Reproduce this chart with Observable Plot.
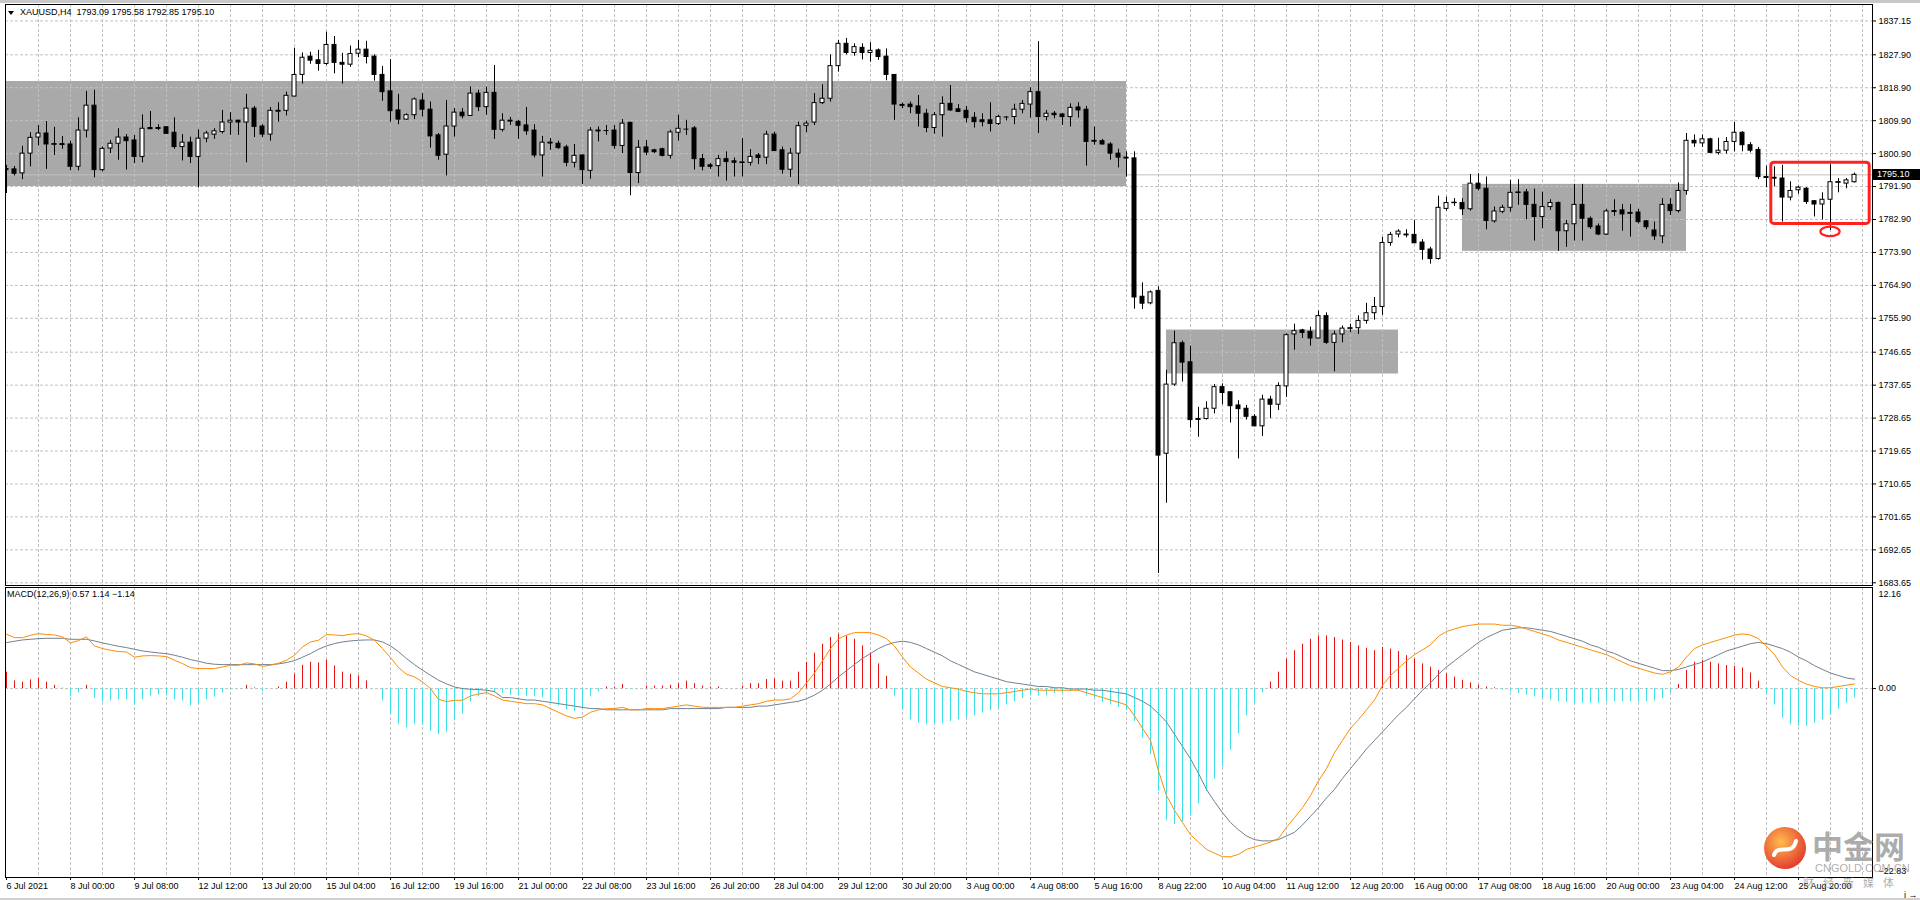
<!DOCTYPE html>
<html>
<head>
<meta charset="utf-8">
<script src="https://cdn.jsdelivr.net/npm/d3@7"></script>
<script src="https://cdn.jsdelivr.net/npm/@observablehq/plot@0.6"></script>
<style>
  html, body { margin:0; padding:0; background:#fff; }
  body { width:1920px; height:900px; overflow:hidden; position:relative; font-family:"Liberation Sans", Arial, sans-serif; }
  #topband { position:absolute; left:0; top:0; width:1920px; height:3px; background:#c8c8c8; z-index:6; }
  #botband { position:absolute; left:0; top:898px; width:1920px; height:2px; background:#d0d0d0; z-index:6; }
  #price { position:absolute; left:0; top:0; }
  #macd { position:absolute; left:0; top:586px; }
  #title { position:absolute; left:20px; top:7px; font-size:9px; line-height:11px; color:#000; white-space:pre; z-index:5; }
  #tri { position:absolute; left:8px; top:11px; width:0; height:0; border-left:3.5px solid transparent; border-right:3.5px solid transparent; border-top:4px solid #000; z-index:5; }
  #macdTitle { position:absolute; left:7px; top:589px; font-size:9px; line-height:11px; color:#000; white-space:pre; z-index:5; }
  #bid { position:absolute; left:1873px; width:47px; height:11px; background:#000; color:#fff; font-size:9px; line-height:11px; padding-left:4px; box-sizing:border-box; z-index:5; }
  .wm { position:absolute; z-index:7; color:rgba(140,140,140,0.72); white-space:pre; }
</style>
</head>
<body>
<div id="topband"></div>
<div id="botband"></div>
<div id="price"></div>
<div id="macd"></div>
<div id="tri"></div>
<div id="title"></div>
<div id="macdTitle"></div>
<div id="bid"></div>
<svg class="wm" width="48" height="48" style="left:1761px;top:824px">
  <defs><radialGradient id="lg" cx="40%" cy="35%" r="65%"><stop offset="0" stop-color="#ffb43a"/><stop offset="1" stop-color="#e02a18"/></radialGradient></defs>
  <circle cx="24" cy="24" r="21" fill="url(#lg)" opacity="0.9"/>
  <path d="M13 31 C 17 19, 31 33, 35 17" stroke="#fff" stroke-width="4" fill="none" stroke-linecap="round"/>
</svg>
<div class="wm" style="left:1812px;top:828px;font-size:31px;line-height:34px;font-weight:bold;font-family:'Noto Sans CJK SC';">中金网</div>
<div class="wm" style="left:1815px;top:862px;font-size:11px;line-height:12px;">CNGOLD.COM.CN</div>
<div class="wm" style="left:1803px;top:876px;font-size:11px;line-height:12px;letter-spacing:9px;font-family:'Noto Sans CJK SC';">财经新媒体</div>
<script>
// ---------------- data ----------------
const symbolName = "XAUUSD,H4";
const open = [
1796.4,1796.6,1795.5,1800.9,1805.3,1806.4,1803.4,1803.5,1803.4,1797.3,
1807.2,1814.0,1796.4,1802.3,1803.6,1805.3,1804.5,1800.0,1807.9,1807.9,
1808.1,1806.6,1802.7,1803.9,1800.0,1805.0,1806.1,1806.8,1809.4,1809.9,
1809.4,1813.2,1808.3,1806.1,1812.6,1812.6,1816.5,1822.4,1827.4,1826.4,
1825.4,1830.6,1825.7,1825.2,1828.2,1829.3,1827.4,1822.4,1817.9,1812.7,
1810.2,1811.4,1815.4,1812.9,1805.9,1800.6,1808.3,1812.1,1811.2,1817.3,
1813.6,1817.5,1807.4,1809.9,1809.6,1808.6,1807.2,1800.4,1803.9,1803.6,
1802.6,1798.4,1800.4,1796.2,1807.2,1807.2,1807.2,1803.0,1809.3,1795.6,
1802.6,1801.8,1802.1,1800.3,1806.6,1807.6,1807.8,1799.4,1797.7,1797.5,
1799.4,1798.8,1798.4,1798.4,1800.4,1799.8,1806.1,1801.8,1796.5,1800.9,
1808.5,1809.4,1814.7,1815.9,1824.8,1830.9,1828.4,1829.8,1828.4,1829.1,
1827.4,1822.4,1814.2,1814.3,1813.8,1811.8,1807.9,1811.4,1814.5,1813.0,
1812.6,1810.7,1810.0,1810.0,1809.0,1810.9,1810.9,1812.9,1814.3,1817.7,
1810.9,1811.8,1811.6,1810.9,1813.5,1812.9,1804.4,1804.3,1803.4,1800.9,
1799.8,1799.6,1761.8,1760.0,1763.4,1718.9,1737.8,1749.1,1743.9,1728.4,
1728.4,1731.2,1737.1,1735.7,1732.1,1731.2,1729.0,1726.4,1733.7,1732.3,
1737.3,1751.5,1752.6,1752.2,1750.4,1756.5,1749.2,1751.5,1753.1,1753.2,
1755.2,1757.3,1759.0,1776.5,1778.8,1778.8,1778.7,1776.6,1774.7,1772.1,
1785.8,1787.4,1787.4,1785.7,1792.7,1791.3,1782.4,1785.0,1786.1,1790.2,
1790.3,1786.9,1783.6,1786.3,1787.4,1779.7,1781.6,1786.9,1783.1,1781.0,
1778.8,1785.2,1785.4,1784.7,1784.8,1782.4,1779.9,1778.3,1786.9,1785.2,
1790.7,1804.4,1803.7,1804.8,1801.1,1801.7,1804.1,1806.6,1803.2,1801.9,
1794.5,1794.3,1794.1,1788.9,1790.9,1791.3,1787.9,1787.0,1788.3,1793.0,
1792.7,1793.09];
const high = [
1797.7,1797.4,1802.9,1806.6,1808.6,1809.7,1808.1,1805.6,1804.3,1810.7,
1817.9,1818.2,1802.7,1804.5,1807.7,1806.1,1805.9,1811.5,1812.4,1808.8,
1808.3,1810.7,1806.1,1805.4,1807.4,1807.0,1807.7,1812.7,1812.1,1810.0,
1817.1,1813.8,1808.8,1813.5,1814.8,1817.7,1829.7,1828.4,1828.6,1829.1,
1834.1,1832.9,1828.3,1830.3,1831.8,1831.6,1827.9,1824.7,1826.6,1817.1,
1811.8,1816.1,1817.3,1815.0,1806.4,1815.4,1813.2,1813.2,1819.1,1818.2,
1819.1,1825.0,1811.8,1810.8,1810.0,1813.5,1808.8,1805.6,1805.0,1804.3,
1803.2,1803.4,1800.5,1808.0,1808.2,1808.6,1808.6,1810.2,1809.5,1804.5,
1804.5,1802.1,1802.4,1807.3,1811.4,1810.0,1808.3,1800.7,1798.2,1800.4,
1801.4,1799.7,1805.0,1802.0,1800.9,1807.0,1806.8,1802.7,1802.3,1809.5,
1809.8,1817.3,1819.7,1827.9,1831.8,1832.4,1830.9,1830.9,1831.2,1829.5,
1829.5,1822.5,1814.7,1815.0,1816.8,1813.0,1812.1,1816.4,1819.5,1814.3,
1813.8,1812.1,1811.8,1814.8,1811.4,1811.0,1814.4,1815.4,1818.9,1831.5,
1812.7,1812.4,1811.8,1814.5,1814.8,1813.8,1808.2,1804.8,1803.9,1802.1,
1801.4,1801.4,1765.6,1763.4,1764.5,1741.7,1752.4,1749.7,1748.3,1731.6,
1733.1,1737.8,1738.0,1735.7,1733.4,1732.1,1729.6,1734.9,1734.6,1738.3,
1751.7,1754.3,1752.9,1753.5,1757.9,1757.4,1752.4,1753.8,1754.3,1756.6,
1760.0,1761.6,1778.0,1779.4,1780.1,1780.1,1782.6,1777.4,1775.3,1789.3,
1789.0,1788.6,1788.6,1795.2,1795.4,1794.5,1786.3,1786.8,1793.6,1793.8,
1791.1,1791.2,1790.4,1788.3,1787.7,1782.7,1792.5,1792.5,1783.6,1781.7,
1785.7,1788.3,1787.0,1787.0,1785.7,1782.7,1782.2,1788.6,1788.6,1792.9,
1806.4,1806.0,1806.0,1805.1,1805.1,1805.3,1809.4,1806.9,1803.9,1802.6,
1797.5,1797.3,1797.7,1793.2,1792.0,1791.6,1788.1,1790.2,1797.9,1794.1,
1794.1,1795.58];
const low = [
1790.0,1794.8,1793.8,1797.3,1803.0,1796.6,1800.4,1802.1,1796.2,1796.2,
1805.2,1794.3,1795.9,1800.9,1799.1,1796.4,1798.2,1798.4,1807.5,1807.2,
1806.2,1802.1,1798.9,1798.2,1791.5,1803.9,1804.8,1806.3,1805.9,1805.9,
1798.4,1805.3,1805.3,1804.3,1809.5,1811.2,1816.4,1819.9,1825.3,1823.4,
1825.0,1822.7,1819.9,1824.5,1827.1,1825.4,1820.7,1815.2,1809.5,1808.8,
1810.0,1810.2,1810.9,1802.4,1799.1,1794.8,1805.4,1810.4,1811.2,1812.4,
1811.4,1804.8,1806.8,1808.6,1804.8,1805.9,1799.7,1794.5,1801.8,1802.1,
1797.3,1797.0,1792.5,1793.9,1804.1,1805.9,1802.1,1800.9,1789.4,1792.7,
1800.3,1800.9,1800.0,1799.4,1804.3,1805.9,1796.4,1796.2,1796.6,1794.5,
1793.4,1794.5,1794.5,1797.5,1797.9,1797.9,1801.5,1795.3,1794.4,1792.4,
1806.6,1808.6,1814.3,1815.0,1823.2,1827.9,1827.5,1826.5,1825.9,1826.4,
1820.8,1810.0,1813.2,1811.8,1808.2,1806.6,1806.2,1805.4,1812.4,1812.1,
1809.3,1807.9,1808.2,1806.8,1808.6,1809.8,1808.8,1811.8,1810.6,1806.4,
1809.8,1810.4,1808.6,1808.2,1810.6,1797.5,1803.2,1803.2,1799.1,1797.0,
1794.5,1758.4,1758.3,1759.6,1686.2,1705.4,1737.3,1738.5,1725.9,1723.4,
1728.1,1729.8,1732.3,1727.3,1717.5,1728.1,1726.3,1723.6,1728.5,1730.7,
1734.3,1747.2,1750.4,1748.3,1750.3,1748.8,1741.3,1749.2,1752.0,1751.5,
1754.3,1755.4,1756.7,1775.6,1777.9,1777.9,1776.4,1771.8,1770.7,1771.8,
1785.2,1786.5,1784.0,1785.2,1790.7,1780.1,1781.9,1784.5,1784.9,1786.8,
1782.8,1777.0,1780.4,1785.4,1774.2,1775.3,1777.0,1777.0,1780.2,1778.5,
1778.5,1783.8,1779.7,1778.1,1781.7,1780.1,1777.2,1776.3,1784.0,1784.7,
1789.5,1802.6,1802.6,1800.9,1800.5,1800.8,1801.4,1801.4,1801.1,1793.8,
1791.6,1791.8,1782.2,1788.0,1789.8,1787.0,1783.6,1782.8,1779.9,1790.2,
1791.3,1792.85];
const close = [
1796.7,1795.4,1800.9,1805.2,1806.4,1803.4,1803.5,1803.4,1797.3,1807.2,
1814.0,1796.4,1802.2,1803.6,1805.3,1804.3,1800.0,1807.7,1807.7,1807.8,
1806.3,1802.7,1803.9,1800.0,1805.0,1806.4,1807.0,1809.4,1809.9,1809.4,
1813.2,1808.2,1806.1,1812.6,1812.5,1816.7,1822.4,1827.1,1826.3,1825.4,
1830.6,1825.7,1825.2,1828.1,1829.3,1827.3,1822.4,1817.7,1812.5,1810.2,
1811.4,1815.7,1812.9,1805.6,1800.3,1808.3,1812.1,1811.1,1817.3,1813.6,
1817.5,1807.4,1809.9,1809.8,1808.5,1807.0,1800.4,1803.9,1803.8,1802.4,
1798.4,1800.3,1796.4,1807.2,1807.1,1807.2,1803.0,1809.1,1795.6,1802.5,
1801.2,1801.3,1800.3,1806.7,1807.7,1807.6,1799.4,1797.3,1797.3,1799.4,
1798.6,1798.4,1798.5,1800.0,1799.7,1806.1,1801.6,1796.5,1800.9,1808.4,
1809.1,1814.7,1815.9,1824.8,1830.9,1828.4,1830.0,1828.4,1829.0,1827.3,
1822.4,1814.3,1814.1,1813.6,1811.8,1807.9,1811.4,1814.5,1812.7,1812.3,
1810.6,1809.5,1809.5,1809.0,1810.9,1810.9,1812.9,1814.5,1817.7,1810.9,
1811.8,1811.4,1810.9,1813.4,1812.7,1804.1,1804.3,1803.4,1800.9,1799.8,
1799.7,1761.6,1759.9,1763.0,1718.4,1737.8,1749.1,1743.8,1728.1,1728.3,
1731.2,1737.1,1735.5,1731.9,1731.1,1729.0,1726.4,1733.7,1732.3,1737.4,
1751.3,1752.4,1751.9,1750.4,1756.5,1749.2,1751.5,1753.1,1753.2,1755.2,
1757.3,1759.0,1776.5,1778.7,1779.6,1778.7,1776.4,1774.6,1772.1,1786.1,
1787.4,1787.5,1785.7,1792.7,1791.3,1782.5,1785.1,1786.1,1790.2,1790.3,
1786.9,1783.6,1786.3,1787.4,1779.7,1781.6,1786.9,1783.1,1780.8,1778.8,
1785.1,1785.1,1784.3,1784.6,1782.2,1780.8,1778.3,1786.9,1785.2,1790.7,
1804.4,1803.7,1804.8,1801.1,1801.7,1804.1,1806.6,1803.2,1801.7,1794.5,
1794.4,1794.2,1788.9,1790.7,1791.6,1787.7,1787.0,1788.3,1793.1,1793.1,
1793.6,1795.10];

const macdMain = [
6.60,6.19,6.19,6.48,6.68,6.56,6.52,6.28,5.55,5.83,
6.28,5.18,4.86,4.66,4.49,4.45,3.81,3.97,4.01,3.97,
3.89,3.44,3.04,2.55,2.43,2.43,2.43,2.63,2.83,2.83,
3.12,3.00,2.71,2.83,3.08,3.44,4.05,5.06,5.67,5.87,
6.56,6.52,6.44,6.60,6.68,6.40,5.87,4.86,3.77,2.55,
1.74,1.42,0.81,0.00,-1.30,-1.58,-1.42,-1.42,-0.89,-0.65,
-0.49,-0.89,
-1.39,-1.54,-1.68,-1.83,-1.83,-1.98,
-2.43,-2.88,-3.32,-3.62,-3.47,
-2.88,-2.58,-2.43,-2.43,-2.28,
-2.58,-2.58,-2.43,-2.43,-2.43,
-2.28,-2.13,-1.98,-2.13,-2.28,
-2.28,-2.28,-2.28,-2.28,
-2.13,-1.98,-1.83,-1.54,-1.39,-1.39,-1.24,
-0.50,0.69,1.89,3.37,4.86,6.05,6.50,6.80,
6.80,6.80,6.50,6.05,5.16,3.82,2.63,
1.89,1.14,0.69,0.25,0.10,-0.05,-0.35,-0.50,
-0.64,-0.64,-0.64,-0.50,-0.35,-0.20,-0.05,
-0.20,-0.20,-0.20,-0.20,-0.20,-0.20,
-0.50,-0.79,-1.09,-1.39,-1.68,-1.98,
-3.32,-4.81,-6.30,-10.02,-13.00,-14.78,-16.27,-17.76,
-18.65,-19.54,-19.99,-20.43,-20.43,-20.14,-19.54,
-19.24,-18.95,-18.65,-18.20,-16.86,-15.67,-14.47,-13.00,
-11.21,-9.72,-7.79,-6.30,-4.81,-3.77,-2.58,-1.39,
0.40,1.59,2.48,3.37,4.12,4.71,5.31,6.35,
6.94,7.24,7.54,7.69,7.84,7.84,7.84,
7.69,7.69,7.54,7.24,6.94,6.65,6.35,
5.90,5.61,5.31,5.01,4.71,4.42,4.12,
3.67,3.22,2.78,2.48,2.18,1.89,1.74,
2.03,2.63,3.82,4.86,5.31,5.61,5.90,6.20,6.50,6.65,6.50,
6.05,5.16,4.12,2.63,1.59,0.99,0.55,0.25,0.10,0.10,0.25,0.40,0.57];
const macdSignal = [
5.59,5.75,5.91,5.99,6.07,6.11,6.11,6.11,5.99,5.99,
5.99,5.79,5.55,5.34,5.14,4.98,4.78,4.57,4.45,4.33,
4.25,4.05,3.81,3.52,3.32,3.08,2.96,2.91,2.91,2.91,
2.91,2.91,2.91,2.91,3.00,3.16,3.40,3.81,4.25,4.78,
5.18,5.47,5.67,5.79,5.87,5.91,5.91,5.67,5.18,4.49,
3.64,2.91,2.23,1.62,1.01,0.57,0.20,0.00,-0.08,-0.12,-0.20,-0.36,
-1.09,-1.09,-1.24,-1.39,-1.39,-1.54,
-1.68,-1.83,-1.98,-2.13,-2.28,
-2.43,-2.43,
-2.58,-2.58,-2.58,-2.58,-2.58,-2.58,-2.58,-2.58,
-2.43,-2.43,-2.43,-2.43,-2.43,-2.43,-2.43,
-2.28,-2.28,-2.28,-2.28,
-2.13,-2.13,-1.98,-1.83,-1.68,-1.54,
-1.24,-0.79,-0.20,0.55,1.44,2.18,2.93,
3.67,4.27,4.86,5.31,5.61,5.76,5.61,
5.31,4.86,4.42,3.97,3.37,2.93,2.48,
2.03,1.74,1.44,1.14,0.84,0.69,0.55,
0.40,0.25,0.25,0.10,0.10,-0.05,-0.05,
-0.05,-0.20,-0.20,-0.35,-0.50,-0.64,
-1.09,-1.54,-2.13,-3.03,-4.07,-5.55,-7.04,
-8.53,-10.32,-12.25,-13.74,-15.08,-16.27,-17.16,
-17.90,-18.35,-18.50,-18.50,-18.35,-17.90,-17.46,
-16.56,-15.52,-14.47,-13.29,-12.25,-10.91,-9.72,
-8.53,-7.34,-6.30,-5.26,-4.22,-3.17,-2.28,
-1.24,-0.20,0.69,1.74,2.63,3.37,4.12,
4.86,5.61,6.20,6.65,7.09,7.24,7.39,
7.39,7.24,7.09,6.94,6.65,6.35,6.05,
5.76,5.31,5.01,4.57,4.27,3.82,3.37,
3.07,2.78,2.48,2.18,2.18,2.33,2.63,
2.93,3.22,3.67,4.12,4.57,4.86,5.16,
5.46,5.61,5.46,5.16,4.86,4.42,3.82,
3.37,2.78,2.33,1.89,1.59,1.29,1.14];
const macdHist = [
2.0,0.93,0.77,1.05,1.25,0.77,0.4,0.05,-1.0,-0.5,
0.4,-1.17,-1.58,-1.5,-1.38,-1.38,-2.0,-1.38,-0.93,-0.77,
-0.9,-1.38,-1.5,-2.1,-1.86,-1.38,-1.05,-0.53,-0.16,0.0,
0.4,0.08,-0.36,0.0,0.2,0.77,1.74,2.83,3.2,3.12,
3.44,2.75,2.0,1.74,1.54,0.93,0.0,-1.5,-3.1,-4.33,
-4.74,-4.33,-4.45,-5.2,-5.6,-5.3,-3.9,-3.1,-1.6,-1.0,-0.7,-0.5,
-0.6,-0.8,-0.9,-1.0,-1.0,-1.1,-1.6,-2.1,-2.6,-2.8,
-2.4,-1.0,-0.4,0.2,0.2,0.5,-0.1,0.0,0.3,0.3,
0.3,0.4,0.6,0.9,0.6,0.3,0.2,0.2,0.0,0.0,
0.3,0.6,0.6,1.1,1.2,0.9,0.9,2.0,3.2,4.3,
5.4,6.2,6.6,6.4,6.0,5.2,4.3,3.0,1.5,-0.9,
-2.6,-3.8,-4.2,-4.4,-4.4,-4.3,-4.0,-3.8,-3.6,-3.3,
-3.0,-2.7,-2.4,-2.0,-1.6,-1.2,-0.9,-0.9,-0.9,-0.6,
-0.6,-0.4,-0.4,-0.9,-1.2,-1.7,-2.0,-2.3,-2.6,-4.0,
-6.0,-8.0,-12.5,-16.0,-16.5,-16.2,-15.5,-14.0,-12.5,-11.0,
-9.5,-7.5,-5.5,-3.3,-1.8,-0.5,0.8,2.0,3.6,4.6,
5.4,6.0,6.4,6.4,6.2,5.9,5.6,5.2,4.9,4.6,
5.0,4.8,4.5,4.0,3.6,3.0,2.6,2.2,1.8,1.4,
1.0,0.7,0.4,0.2,0.1,-0.2,-0.4,-0.6,-0.8,-1.0,
-1.2,-1.4,-1.6,-1.7,-1.8,-1.8,-1.8,-1.8,-1.6,-1.6,
-1.6,-1.6,-1.6,-1.6,-1.5,-1.2,-0.5,0.5,2.2,3.2,
3.4,3.2,3.0,2.8,2.7,2.5,1.9,0.9,-0.6,-2.0,
-3.6,-4.4,-4.6,-4.6,-4.2,-3.8,-3.2,-2.5,-1.8,-1.14];

const xLabels = ["6 Jul 2021","8 Jul 00:00","9 Jul 08:00","12 Jul 12:00","13 Jul 20:00","15 Jul 04:00","16 Jul 12:00","19 Jul 16:00","21 Jul 00:00","22 Jul 08:00","23 Jul 16:00","26 Jul 20:00","28 Jul 04:00","29 Jul 12:00","30 Jul 20:00","3 Aug 00:00","4 Aug 08:00","5 Aug 16:00","8 Aug 22:00","10 Aug 04:00","11 Aug 12:00","12 Aug 20:00","16 Aug 00:00","17 Aug 08:00","18 Aug 16:00","20 Aug 00:00","23 Aug 04:00","24 Aug 12:00","25 Aug 20:00"];
const priceTicks = [1837.15,1827.90,1818.90,1809.90,1800.90,1791.90,1782.90,1773.90,1764.90,1755.90,1746.65,1737.65,1728.65,1719.65,1710.65,1701.65,1692.65,1683.65];
const macdTicks = [12.16, 0, -22.83];
const bidPrice = 1795.10;

// annotations (bar index / price)
const zoneStart = [-1, 145, 182];
const zoneEnd = [140, 174, 210];
const zoneTop = [1820.6, 1752.7, 1792.5];
const zoneBottom = [1791.9, 1740.7, 1774.2];
const boxStart = [220.6], boxEnd = [232.9], boxTop = [1798.4], boxBottom = [1781.7];
const ringX = [228], ringY = [1779.5], ringHalfW = [1.2], ringHalfH = [1.3];

// ---------------- build ----------------
const n = close.length;
const bars = d3.range(n).map(i => ({i, o: open[i], h: high[i], l: low[i], c: close[i]}));
const zones = zoneStart.map((s, k) => ({s, e: zoneEnd[k], t: zoneTop[k], b: zoneBottom[k]}));
const box = boxStart.map((s, k) => ({s, e: boxEnd[k], t: boxTop[k], b: boxBottom[k]}));
const macdData = d3.range(macdMain.length).map(i => ({i, m: macdMain[i], s: macdSignal[i], h: macdHist[i]}));
const gridIdx = d3.range(4, 233, 4);
const labelIdx = xLabels.map((_, k) => k * 8);

const W = 1920;
const xDomain = [0, n - 1];
const xRange = [6, 6 + 8 * (n - 1)];
const grid = {stroke: "#c0c0c0", strokeOpacity: 1, strokeDasharray: "3,2"};
const font = {fontFamily: "Liberation Sans, Arial, sans-serif", fontSize: "9px", background: "white", overflow: "visible"};
const fmt2 = d3.format(".2f");

const pricePlot = Plot.plot({
  width: W, height: 586,
  marginLeft: 5, marginRight: 48, marginTop: 4, marginBottom: 1,
  x: {domain: xDomain, range: xRange, axis: null},
  y: {domain: [1683.65, 1827.90], range: [582.3, 54.3]},
  style: font,
  marks: [
    Plot.rect(zones, {x1: "s", x2: "e", y1: "b", y2: "t", fill: "#a9a9a9", clip: "frame"}),
    Plot.gridY({ticks: priceTicks, ...grid}),
    Plot.gridX({ticks: gridIdx, ...grid}),
    Plot.ruleY([bidPrice], {stroke: "#c0c0c0"}),
    Plot.ruleX(bars, {x: "i", y1: "l", y2: "h", stroke: "black", clip: "frame"}),
    Plot.rect(bars.filter(d => d.c >= d.o), {x1: d => d.i - 0.25, x2: d => d.i + 0.25, y1: "o", y2: "c", fill: "white", stroke: "black", clip: "frame"}),
    Plot.rect(bars.filter(d => d.c < d.o), {x1: d => d.i - 0.25, x2: d => d.i + 0.25, y1: "o", y2: "c", fill: "black", stroke: "black", clip: "frame"}),
    Plot.ruleY(bars.filter(d => Math.abs(d.o - d.c) < 0.25), {y: "c", x1: d => d.i - 0.3125, x2: d => d.i + 0.3125, stroke: "black"}),
    Plot.rect(box, {x1: "s", x2: "e", y1: "b", y2: "t", fill: "none", stroke: "#ff2020", strokeWidth: 3, rx: 3}),
    Plot.frame({stroke: "black"}),
    Plot.axisY({anchor: "right", ticks: priceTicks, tickFormat: fmt2, tickSize: 3, tickPadding: 3, fontSize: 9})
  ]
});
document.getElementById("price").appendChild(pricePlot);

// ellipse annotation using the plot's own scales
{
  const sx = pricePlot.scale("x"), sy = pricePlot.scale("y");
  ringX.forEach((cxv, k) => {
    const cx = sx.apply(cxv), cy = sy.apply(ringY[k]);
    const rx = Math.abs(sx.apply(cxv + ringHalfW[k]) - cx);
    const ry = Math.abs(sy.apply(ringY[k] + ringHalfH[k]) - cy);
    d3.select(pricePlot).append("ellipse")
      .attr("cx", cx).attr("cy", cy).attr("rx", rx).attr("ry", ry)
      .attr("fill", "none").attr("stroke", "#ff2020").attr("stroke-width", 2.2);
  });
  const by = sy.apply(bidPrice);
  const bid = document.getElementById("bid");
  bid.style.top = (by - 5.5) + "px";
  bid.textContent = fmt2(bidPrice);
}

const macdPlot = Plot.plot({
  width: W, height: 314,
  marginLeft: 5, marginRight: 48, marginTop: 1, marginBottom: 23,
  x: {domain: xDomain, range: xRange},
  y: {domain: [-22.83, 12.16], range: [290, 2]},
  style: font,
  marks: [
    Plot.gridX({ticks: gridIdx, ...grid}),
    Plot.ruleY([0], {...grid}),
    Plot.ruleX(macdData.filter(d => d.h > 0), {x: "i", y1: 0, y2: "h", stroke: "#e81414"}),
    Plot.ruleX(macdData.filter(d => d.h < 0), {x: "i", y1: 0, y2: "h", stroke: "#3ee0e8"}),
    Plot.line(macdData, {x: "i", y: "s", stroke: "#708090", strokeWidth: 1}),
    Plot.line(macdData, {x: "i", y: "m", stroke: "#ff8c00", strokeWidth: 1}),
    Plot.frame({stroke: "black"}),
    Plot.axisX({anchor: "bottom", ticks: labelIdx, tickFormat: i => xLabels[i / 8], tickSize: 3, tickPadding: 2, textAnchor: "start", fontSize: 9}),
    Plot.axisY({anchor: "right", ticks: [macdTicks[1]], tickFormat: fmt2, tickSize: 3, tickPadding: 3, fontSize: 9}),
    Plot.text([macdTicks[0]], {y: d => d, frameAnchor: "right", dx: 6, dy: 6, textAnchor: "start", text: d => fmt2(d), fontSize: 9}),
    Plot.text([macdTicks[2]], {y: d => d, frameAnchor: "right", dx: 6, dy: -5, textAnchor: "start", text: d => fmt2(d), fontSize: 9})
  ]
});
document.getElementById("macd").appendChild(macdPlot);

// header texts from the data
const last = n - 1;
document.getElementById("title").textContent =
  `${symbolName}  ${fmt2(open[last])} ${fmt2(high[last])} ${fmt2(low[last])} ${fmt2(close[last])}`;
const lm = macdMain.length - 1;
document.getElementById("macdTitle").textContent =
  `MACD(12,26,9) ${fmt2(macdMain[lm])} ${fmt2(macdSignal[lm])} ${fmt2(macdHist[lm])}`;
</script>
</body>
</html>
